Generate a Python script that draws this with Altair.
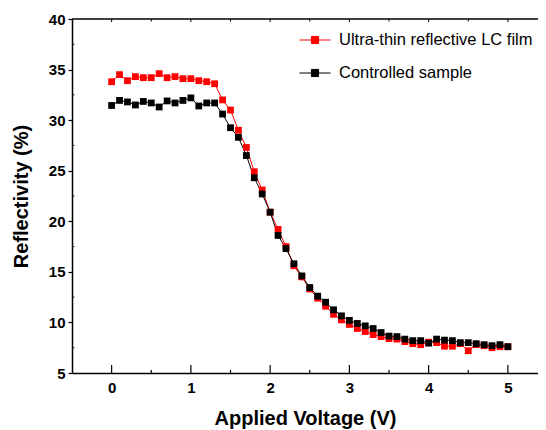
import altair as alt
import pandas as pd

volts = [0.0, 0.1, 0.2, 0.3, 0.4, 0.5, 0.6, 0.7, 0.8, 0.9,
         1.0, 1.1, 1.2, 1.3, 1.4, 1.5, 1.6, 1.7, 1.8, 1.9,
         2.0, 2.1, 2.2, 2.3, 2.4, 2.5, 2.6, 2.7, 2.8, 2.9,
         3.0, 3.1, 3.2, 3.3, 3.4, 3.5, 3.6, 3.7, 3.8, 3.9,
         4.0, 4.1, 4.2, 4.3, 4.4, 4.5, 4.6, 4.7, 4.8, 4.9, 5.0]

film = [33.8, 34.5, 33.9, 34.3, 34.2, 34.2, 34.6, 34.2, 34.3, 34.1,
        34.1, 33.9, 33.8, 33.6, 32.0, 31.0, 29.0, 27.3, 24.9, 23.1,
        20.9, 19.2, 17.5, 15.6, 14.5, 13.3, 12.4, 11.6, 10.8, 10.25,
        9.8, 9.4, 9.1, 8.8, 8.6, 8.4, 8.35, 8.1, 7.9, 7.8,
        8.05, 8.0, 7.65, 7.65, 7.9, 7.2, 7.8, 7.7, 7.5, 7.6, 7.6]

control = [31.45, 31.95, 31.8, 31.5, 31.85, 31.7, 31.3, 31.9, 31.7, 31.95,
           32.2, 31.4, 31.7, 31.7, 30.6, 29.25, 28.3, 26.5, 24.3, 22.7,
           20.9, 18.6, 17.3, 15.8, 14.6, 13.45, 12.6, 12.0, 11.25, 10.65,
           10.2, 9.9, 9.66, 9.4, 9.0, 8.65, 8.6, 8.35, 8.2, 8.2,
           7.95, 8.35, 8.25, 8.2, 8.0, 8.0, 7.9, 7.8, 7.7, 7.8, 7.6]

series_names = ["Ultra-thin reflective LC film", "Controlled sample"]
series_colors = ["#ff0000", "#000000"]

x_major = [0, 1, 2, 3, 4, 5]
x_minor = [0.5, 1.5, 2.5, 3.5, 4.5]
y_major = [5, 10, 15, 20, 25, 30, 35, 40]
y_minor = [7.5, 12.5, 17.5, 22.5, 27.5, 32.5, 37.5]

rows = []
for name, vals in zip(series_names, [film, control]):
    for i, (v, r) in enumerate(zip(volts, vals)):
        rows.append({"series": name, "volt": v, "refl": r, "order": i})
df = pd.DataFrame(rows)

xscale = alt.Scale(domain=[-0.5, 5.38], nice=False, zero=False)
yscale = alt.Scale(domain=[5, 40], nice=False, zero=False)

legend = alt.Legend(
    title=None, orient="none", legendX=227, legendY=5, padding=0,
    symbolType="M-1,0H1M-0.23,-0.23H0.23V0.23H-0.23Z",
    symbolSize=961, symbolStrokeWidth=1, symbolOpacity=1,
    labelFont="Liberation Sans", labelFontSize=16.5, labelOffset=8,
    labelColor="#000", rowPadding=8, labelLimit=400,
)
color = alt.Color("series:N", scale=alt.Scale(domain=series_names, range=series_colors),
                  sort=series_names, legend=legend)

xaxis = alt.Axis(title="Applied Voltage (V)", values=x_major, format="d", ticks=False,
                 labelPadding=7, titleY=51, titleBaseline="alphabetic")
yaxis = alt.Axis(title="Reflectivity (%)", values=y_major, format="d", tickSize=4,
                 tickColor="#000", tickWidth=1.2, labelPadding=3,
                 titleX=-45, titleY=177, titleBaseline="alphabetic", titleAlign="center")

base = alt.Chart(df)
lines = base.mark_line(strokeWidth=1).encode(
    x=alt.X("volt:Q", scale=xscale, axis=xaxis),
    y=alt.Y("refl:Q", scale=yscale, axis=yaxis),
    color=color,
    detail="series:N",
    order="order:Q",
)
points = base.mark_point(shape="square", filled=True, size=46, opacity=1).encode(
    x=alt.X("volt:Q", scale=xscale),
    y=alt.Y("refl:Q", scale=yscale),
    color=color,
)

xmaj = alt.Chart(pd.DataFrame({"t": x_major}))
xmin = alt.Chart(pd.DataFrame({"t": x_minor}))
ymin = alt.Chart(pd.DataFrame({"t": y_minor}))

bt_major = xmaj.mark_rule(color="#000", strokeWidth=1.2).encode(
    x=alt.X("t:Q", scale=xscale), y=alt.datum(5), y2=alt.datum(5.8))
bt_minor = xmin.mark_rule(color="#000", strokeWidth=1.2).encode(
    x=alt.X("t:Q", scale=xscale), y=alt.datum(5), y2=alt.datum(5.3))
tp_major = xmaj.mark_rule(color="#000", strokeWidth=1).encode(
    x=alt.X("t:Q", scale=xscale), y=alt.datum(40), y2=alt.datum(39.7))
tp_minor = xmin.mark_rule(color="#000", strokeWidth=1).encode(
    x=alt.X("t:Q", scale=xscale), y=alt.datum(40), y2=alt.datum(39.75))
lf_minor = ymin.mark_rule(color="#000", strokeWidth=1).encode(
    y=alt.Y("t:Q", scale=yscale), x=alt.datum(-0.5), x2=alt.datum(-0.47))
top_line = alt.Chart(pd.DataFrame({"t": [40]})).mark_rule(color="#000", strokeWidth=1.5).encode(
    y=alt.Y("t:Q", scale=yscale))

chart = alt.layer(
    top_line, bt_major, bt_minor, tp_major, tp_minor, lf_minor, lines, points
).properties(
    width=466, height=354,
    autosize=alt.AutoSizeParams(type="none"),
    padding={"left": 64, "top": 11, "right": 0, "bottom": 56},
).configure_view(
    stroke=None
).configure_axis(
    grid=False,
    domainColor="#000", domainWidth=1.5,
    labelFont="Liberation Sans", labelFontSize=15, labelFontWeight="bold", labelColor="#000",
    titleFont="Liberation Sans", titleFontSize=20, titleFontWeight="bold", titleColor="#000",
)

chart.save("out.html", embed_options={"renderer": "svg", "actions": False})
